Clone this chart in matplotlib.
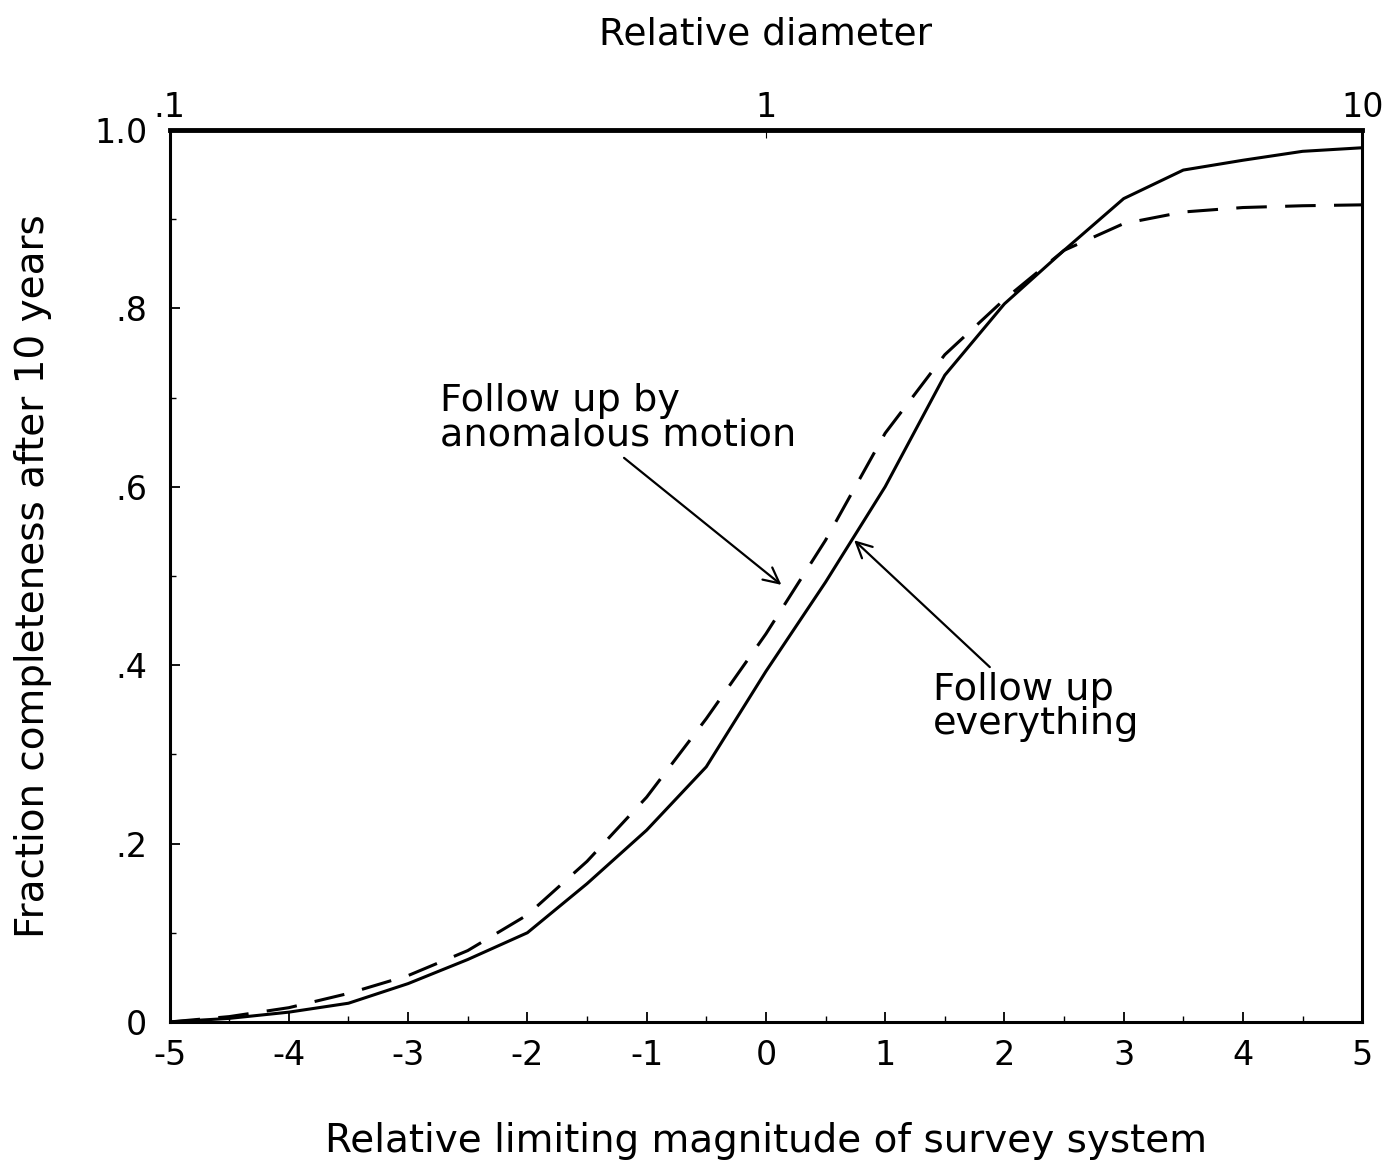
import matplotlib
matplotlib.use("Agg")
import matplotlib.pyplot as plt
from matplotlib.ticker import MultipleLocator, NullLocator

plt.rcParams['font.family'] = ['DejaVu Sans']

# magnitude grid and read-off values
mag = [-5, -4.5, -4, -3.5, -3, -2.5, -2, -1.5, -1, -0.5, 0, 0.5, 1, 1.5, 2, 2.5, 3, 3.5, 4, 4.5, 5]
follow_all = [0.0, 0.004, 0.011, 0.021, 0.043, 0.070, 0.100, 0.155, 0.215, 0.286, 0.393, 0.493,
              0.600, 0.725, 0.805, 0.865, 0.923, 0.955, 0.966, 0.976, 0.980]
follow_anom = [0.0, 0.006, 0.016, 0.032, 0.052, 0.080, 0.120, 0.180, 0.252, 0.340, 0.435, 0.540,
               0.660, 0.748, 0.810, 0.865, 0.895, 0.908, 0.913, 0.915, 0.916]

x_ticks = [-5, -4, -3, -2, -1, 0, 1, 2, 3, 4, 5]
x_tick_labels = ['-5', '-4', '-3', '-2', '-1', '0', '1', '2', '3', '4', '5']
y_ticks = [0, 0.2, 0.4, 0.6, 0.8, 1.0]
y_tick_labels = ['0', '.2', '.4', '.6', '.8', '1.0']
top_ticks = [0.1, 1, 10]
top_tick_labels = ['.1', '1', '10']

fig = plt.figure(figsize=(13.9, 11.6), dpi=100)
ax = fig.add_axes([0.122, 0.119, 0.858, 0.769])

ax.plot(mag, follow_all, color='black', lw=2.2)
ax.plot(mag, follow_anom, color='black', lw=2.2, dashes=(10, 6))

ax.set_xlim(-5, 5)
ax.set_ylim(0, 1.0)
ax.set_xticks(x_ticks)
ax.set_xticklabels(x_tick_labels)
ax.set_yticks(y_ticks)
ax.set_yticklabels(y_tick_labels)
ax.xaxis.set_minor_locator(MultipleLocator(0.5))
ax.yaxis.set_minor_locator(MultipleLocator(0.1))
ax.tick_params(which='major', direction='in', length=7, labelsize=24, width=1.3)
ax.tick_params(which='minor', direction='in', length=4, width=1.0)
ax.tick_params(axis='x', which='major', pad=12)
ax.tick_params(axis='y', which='major', pad=16)
for s in ax.spines.values():
    s.set_linewidth(2.2)
ax.spines['top'].set_linewidth(3.5)

ax.set_xlabel('Relative limiting magnitude of survey system', fontsize=28, labelpad=36)
ax.set_ylabel('Fraction completeness after 10 years', fontsize=28, labelpad=30)

ax2 = ax.twiny()
ax2.set_xscale('log')
ax2.set_xlim(0.1, 10)
ax2.set_xticks(top_ticks)
ax2.set_xticklabels(top_tick_labels)
ax2.xaxis.set_minor_locator(NullLocator())
ax2.tick_params(direction='in', length=6, labelsize=24, pad=4)
ax2.set_xlabel('Relative diameter', fontsize=27, labelpad=34)

ax.annotate('Follow up by\nanomalous motion', xy=(0.13, 0.49), xytext=(-2.73, 0.677),
            fontsize=27.5, ha='left', va='center', linespacing=0.95,
            arrowprops=dict(arrowstyle='->', color='black', lw=1.6, mutation_scale=28,
                            shrinkA=2, shrinkB=0, relpos=(0.5, 0.0)))
ax.annotate('Follow up\neverything', xy=(0.74, 0.54), xytext=(1.40, 0.353),
            fontsize=27.5, ha='left', va='center', linespacing=0.95,
            arrowprops=dict(arrowstyle='->', color='black', lw=1.6, mutation_scale=28,
                            shrinkA=2, shrinkB=0, relpos=(0.3, 1.0)))

fig.savefig('out.png', dpi=100)
